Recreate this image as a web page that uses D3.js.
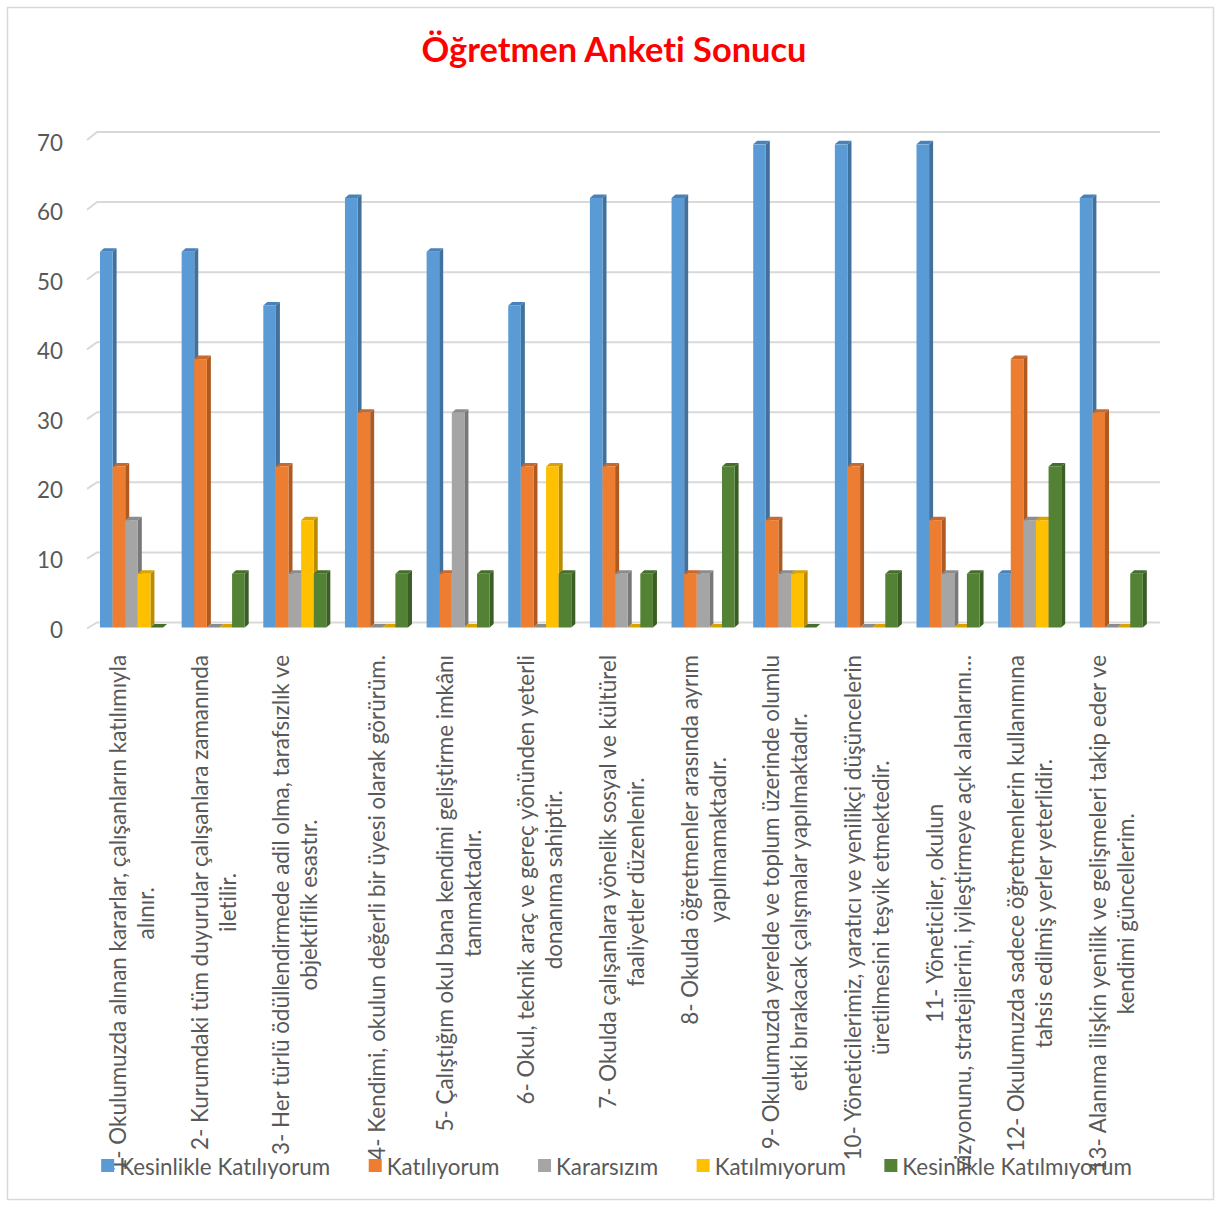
<!DOCTYPE html>
<html>
<head>
<meta charset="utf-8">
<script src="https://cdn.jsdelivr.net/npm/d3@7"></script>
<style>
  html, body { margin: 0; padding: 0; background: #fff; }
  svg { display: block; }
  text { font-variant-ligatures: none; font-feature-settings: "liga" 0, "clig" 0, "calt" 0, "dlig" 0; }
</style>
</head>
<body>
<svg id="chart" width="1221" height="1207"></svg>
<script>
// ---------------- DATA ----------------
const title = "Öğretmen Anketi Sonucu";

const categories = [
  ["1- Okulumuzda alınan kararlar, çalışanların katılımıyla", "alınır."],
  ["2- Kurumdaki tüm duyurular çalışanlara zamanında", "iletilir."],
  ["3- Her türlü ödüllendirmede adil olma, tarafsızlık ve", "objektiflik esastır."],
  ["4- Kendimi, okulun değerli bir üyesi olarak görürüm."],
  ["5- Çalıştığım okul bana kendimi geliştirme imkânı", "tanımaktadır."],
  ["6- Okul, teknik araç ve gereç yönünden yeterli", "donanıma sahiptir."],
  ["7- Okulda çalışanlara yönelik sosyal ve kültürel", "faaliyetler düzenlenir."],
  ["8- Okulda öğretmenler arasında ayrım", "yapılmamaktadır."],
  ["9- Okulumuzda yerelde ve toplum üzerinde olumlu", "etki bırakacak çalışmalar yapılmaktadır."],
  ["10- Yöneticilerimiz, yaratıcı ve yenilikçi düşüncelerin", "üretilmesini teşvik etmektedir."],
  ["11- Yöneticiler, okulun", "vizyonunu, stratejilerini, iyileştirmeye açık alanlarını…"],
  ["12- Okulumuzda sadece öğretmenlerin kullanımına", "tahsis edilmiş yerler yeterlidir."],
  ["13- Alanıma ilişkin yenilik ve gelişmeleri takip eder ve", "kendimi güncellerim."]
];

const seriesNames = ["Kesinlikle Katılıyorum", "Katılıyorum", "Kararsızım", "Katılmıyorum", "Kesinlikle Katılmıyorum"];

const kesinlikleKatiliyorum  = [53.85, 53.85, 46.15, 61.54, 53.85, 46.15, 61.54, 61.54, 69.23, 69.23, 69.23, 7.69, 61.54];
const katiliyorum            = [23.08, 38.46, 23.08, 30.77, 7.69, 23.08, 23.08, 7.69, 15.38, 23.08, 15.38, 38.46, 30.77];
const kararsizim             = [15.38, 0, 7.69, 0, 30.77, 0, 7.69, 7.69, 7.69, 0, 7.69, 15.38, 0];
const katilmiyorum           = [7.69, 0, 15.38, 0, 0, 23.08, 0, 0, 7.69, 0, 0, 15.38, 0];
const kesinlikleKatilmiyorum = [0, 7.69, 7.69, 7.69, 7.69, 7.69, 7.69, 23.08, 0, 7.69, 7.69, 23.08, 7.69];

const yTicks = [0, 10, 20, 30, 40, 50, 60, 70];

// ---------------- STYLE ----------------
const seriesValues = [kesinlikleKatiliyorum, katiliyorum, kararsizim, katilmiyorum, kesinlikleKatilmiyorum];
const frontColors = ["#5b9bd5", "#ed7d31", "#a5a5a5", "#ffc000", "#548235"];
const sideColors  = ["#41719c", "#ae5a21", "#787878", "#bc8c00", "#3b5e25"];
const topColors   = ["#4a82b8", "#c9682a", "#8c8c8c", "#d9a300", "#466e2d"];
const FONT = "Lato, 'Open Sans', sans-serif";
const textColor = "#595959";

const svg = d3.select("#chart");
const W = 1221, H = 1207;

svg.append("rect").attr("x", 0).attr("y", 0).attr("width", W).attr("height", H).attr("fill", "#fff");
svg.append("rect").attr("x", 7.5).attr("y", 7.5).attr("width", 1206).attr("height", 1192)
  .attr("fill", "none").attr("stroke", "#d9d9d9").attr("stroke-width", 1.5);

// measure helper
const measurer = svg.append("text").attr("font-family", FONT).attr("font-size", 20).attr("x", -1000).attr("y", -1000);
function measure(str, size, weight, ls) {
  measurer.attr("font-size", size).attr("font-weight", weight || "normal")
    .attr("letter-spacing", ls || 0).text(str);
  return measurer.node().getComputedTextLength();
}
const baseSize = 20 * 505 / measure(categories[3][0], 20);
const titleSize = 30 * 385 / measure(title, 30, "bold", 0.01);

// scales
const yFront = d3.scaleLinear().domain([0, 70]).range([627.5, 139]);
const yBack  = d3.scaleLinear().domain([0, 70]).range([622.5, 132]);
const yLabel = d3.scaleLinear().domain([0, 70]).range([629, 142]);

const catIdx = d3.range(categories.length);
const step = 81.65;
const x = d3.scaleBand().domain(catIdx).range([100 - step * 0.114, 100 - step * 0.114 + step * categories.length])
  .paddingInner(0.228).paddingOuter(0.114);
const xs = d3.scaleBand().domain(d3.range(seriesNames.length)).range([0, x.bandwidth()]).padding(0);

// gridlines with depth slant
const gGrid = svg.append("g");
yTicks.forEach(v => {
  gGrid.append("path")
    .attr("d", `M87,${yFront(v) + 1}L97,${yBack(v)}L1160,${yBack(v)}`)
    .attr("fill", "none").attr("stroke", "#d9d9d9").attr("stroke-width", 2);
});

// y labels
svg.append("g").selectAll("text").data(yTicks).join("text")
  .attr("x", 63).attr("y", d => yLabel(d))
  .attr("text-anchor", "end").attr("dominant-baseline", "central")
  .attr("font-family", FONT).attr("font-size", baseSize).attr("fill", textColor)
  .text(d => d);

// bars (pseudo 3D)
const dx = 4, dy = 3.5;
const gBars = svg.append("g");
catIdx.forEach(i => {
  seriesValues.forEach((vals, j) => {
    const v = vals[i];
    const x0 = x(i) + xs(j);
    const w = xs.bandwidth();
    const yT = yFront(v), yB = yFront(0);
    const g = gBars.append("g");
    g.append("path")
      .attr("d", `M${x0 + w},${yB}L${x0 + w},${yT}L${x0 + w + dx},${yT - dy}L${x0 + w + dx},${yB - dy}Z`)
      .attr("fill", sideColors[j]);
    g.append("path")
      .attr("d", `M${x0},${yT}L${x0 + w},${yT}L${x0 + w + dx},${yT - dy}L${x0 + dx},${yT - dy}Z`)
      .attr("fill", topColors[j]);
    g.append("rect")
      .attr("x", x0).attr("y", yT).attr("width", w).attr("height", yB - yT)
      .attr("fill", frontColors[j]);
  });
});

// category labels (rotated, multi-line, centered)
const lineGap = 28;
const gCat = svg.append("g");
categories.forEach((lines, i) => {
  const cx = x(i) + x.bandwidth() / 2;
  const maxLen = d3.max(lines, l => measure(l, baseSize));
  const yc = 655 + maxLen / 2;
  lines.forEach((l, k) => {
    const lx = cx + (k - (lines.length - 1) / 2) * lineGap;
    gCat.append("text")
      .attr("transform", `translate(${lx},${yc}) rotate(-90)`)
      .attr("text-anchor", "middle").attr("dominant-baseline", "central")
      .attr("font-family", FONT).attr("font-size", baseSize).attr("fill", textColor)
      .text(l);
  });
});

// legend
const sq = 13, sqGap = 5, itemGap = 38.5;
const widths = seriesNames.map(n => measure(n, baseSize));
const total = d3.sum(widths) + seriesNames.length * (sq + sqGap) + itemGap * (seriesNames.length - 1);
let lx = 616.5 - total / 2;
const gLeg = svg.append("g");
seriesNames.forEach((n, j) => {
  gLeg.append("rect").attr("x", lx).attr("y", 1159).attr("width", sq).attr("height", sq).attr("fill", frontColors[j]);
  gLeg.append("text").attr("x", lx + sq + sqGap).attr("y", 1166)
    .attr("dominant-baseline", "central")
    .attr("font-family", FONT).attr("font-size", baseSize).attr("fill", textColor).text(n);
  lx += sq + sqGap + widths[j] + itemGap;
});

// title
svg.append("text").attr("x", 614).attr("y", 48)
  .attr("text-anchor", "middle").attr("dominant-baseline", "central")
  .attr("font-family", FONT).attr("font-weight", "bold").attr("font-size", titleSize)
  .attr("letter-spacing", 0.01)
  .attr("fill", "#ff0000").text(title);

measurer.remove();
</script>
</body>
</html>
